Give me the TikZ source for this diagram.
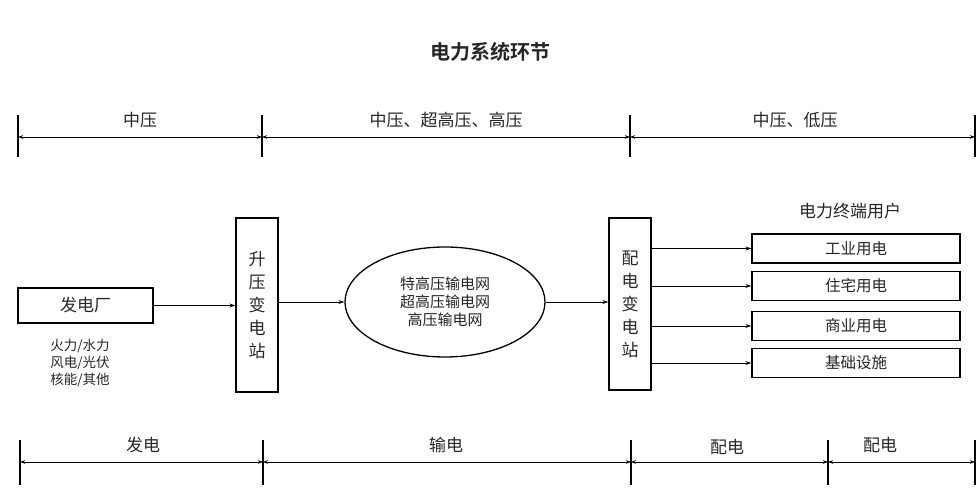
\documentclass[tikz,border=0pt]{standalone}
\usepackage{fontspec}
\setmainfont{Noto Sans CJK SC}
\newfontfamily\cjkb{Noto Sans CJK SC Bold}
\usetikzlibrary{arrows.meta,shapes.geometric}
\begin{document}
\begin{tikzpicture}[x=1pt,y=-1pt,
  box/.style={draw,line width=1.3pt,inner sep=0pt},
  arr/.style={-{Stealth[length=6pt,width=4pt]},line width=0.8pt},
  dim/.style={{Stealth[length=5pt,width=3.5pt]}-{Stealth[length=5pt,width=3.5pt]},line width=0.8pt},
  tick/.style={line width=1.2pt},
  lbl/.style={font=\fontsize{17}{17}\selectfont},
  every node/.style={text=black!85}]
\useasboundingbox (0,0) rectangle (980,500);
\node[font=\cjkb\fontsize{20}{20}\selectfont] (title) at (490,52) {电力系统环节};
% top dimension line
\foreach \n/\x in {t1/18,t2/262,t3/630,t4/975}{\coordinate (\n) at (\x,137); \draw[tick] (\x,115) -- (\x,157);}
\draw[dim] (t1) -- (t2); \draw[dim] (t2) -- (t3); \draw[dim] (t3) -- (t4);
\node[lbl] (l1) at (140,120) {中压};
\node[lbl] (l2) at (446,120) {中压、超高压、高压};
\node[lbl] (l3) at (795,120) {中压、低压};
% bottom dimension line
\foreach \n/\x in {b1/20,b2/263,b3/631,b4/828,b5/975}{\coordinate (\n) at (\x,462); \draw[tick] (\x,440) -- (\x,485);}
\draw[dim] (b1) -- (b2); \draw[dim] (b2) -- (b3); \draw[dim] (b3) -- (b4); \draw[dim] (b4) -- (b5);
\node[lbl] (m1) at (143,445) {发电};
\node[lbl] (m2) at (446,445) {输电};
\node[lbl] (m3) at (727,447) {配电};
\node[lbl] (m4) at (880,445) {配电};
% nodes
\node[box,minimum width=135pt,minimum height=35pt,lbl] (plant) at (85.5,305.5) {发电厂};
\node[font=\fontsize{13.5}{17}\selectfont,align=center] (types) at (80,363) {火力/水力\\风电/光伏\\核能/其他};
\node[box,minimum width=42pt,minimum height=174pt,lbl,align=center] (up) at (257,305) {升\\[6pt]压\\[6pt]变\\[6pt]电\\[6pt]站};
\node[ellipse,draw,line width=1.3pt,minimum width=200pt,minimum height=110pt,inner sep=0pt,align=center,font=\fontsize{15}{18}\selectfont] (grid) at (445,302) {特高压输电网\\超高压输电网\\高压输电网};
\node[box,minimum width=42pt,minimum height=172pt,lbl,align=center] (dist) at (630,304) {配\\[6pt]电\\[6pt]变\\[6pt]电\\[6pt]站};
\node[lbl] (users) at (850,211) {电力终端用户};
\node[box,minimum width=208pt,minimum height=29pt,font=\fontsize{15.5}{15.5}\selectfont] (u1) at (856,248.5) {工业用电};
\node[box,minimum width=208pt,minimum height=29pt,font=\fontsize{15.5}{15.5}\selectfont] (u2) at (856,286) {住宅用电};
\node[box,minimum width=208pt,minimum height=29pt,font=\fontsize{15.5}{15.5}\selectfont] (u3) at (856,326) {商业用电};
\node[box,minimum width=208pt,minimum height=29pt,font=\fontsize{15.5}{15.5}\selectfont] (u4) at (856,363) {基础设施};
% connectors
\draw[arr] (plant.east) -- (plant.east -| up.west);
\draw[arr] (up.east |- grid.west) -- (grid.west);
\draw[arr] (grid.east) -- (grid.east -| dist.west);
\foreach \u in {u1,u2,u3,u4}{\draw[arr] (\u.west -| dist.east) -- (\u.west);}
\end{tikzpicture}
\end{document}
